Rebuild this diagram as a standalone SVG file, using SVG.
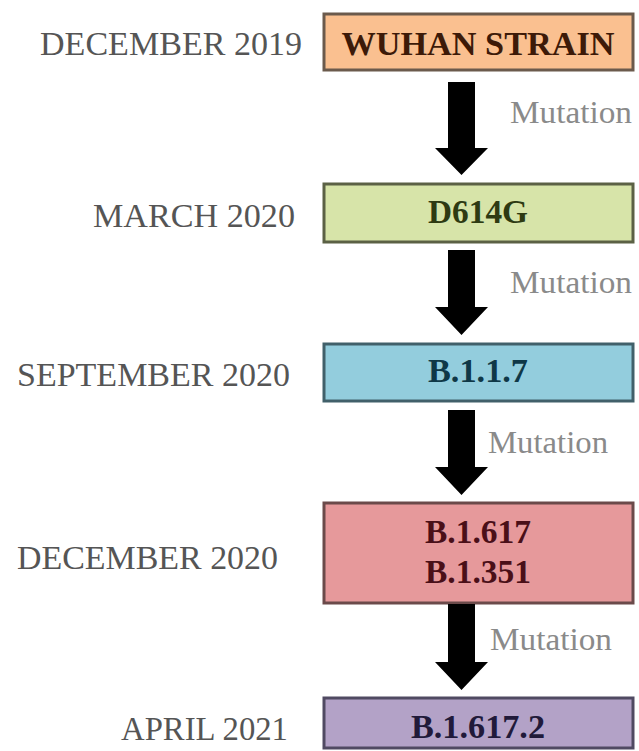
<svg xmlns="http://www.w3.org/2000/svg" width="639" height="751" viewBox="0 0 639 751">
<defs>
<style>
.date{font-family:"Liberation Serif","Times New Roman",serif;font-size:34px;fill:#555555;}
.mut{font-family:"Liberation Serif","Times New Roman",serif;font-size:32px;fill:#8a8a8a;}
.lbl{font-family:"Liberation Serif","Times New Roman",serif;font-size:33px;font-weight:bold;text-anchor:middle;}
.box{stroke-width:3;}
.arrow{fill:#000000;}
</style>
</defs>
<rect width="639" height="751" fill="#ffffff"/>
<g id="dates">
<text class="date" x="40" y="55" textLength="262" lengthAdjust="spacingAndGlyphs">DECEMBER 2019</text>
<text class="date" x="93" y="227" textLength="202" lengthAdjust="spacingAndGlyphs">MARCH 2020</text>
<text class="date" x="17" y="386" textLength="273" lengthAdjust="spacingAndGlyphs">SEPTEMBER 2020</text>
<text class="date" x="17" y="569" textLength="261" lengthAdjust="spacingAndGlyphs">DECEMBER 2020</text>
<text class="date" x="121" y="740" textLength="167" lengthAdjust="spacingAndGlyphs">APRIL 2021</text>
</g>
<g id="node-wuhan">
<rect class="box" x="324" y="14" width="309" height="56" fill="#FAC090" stroke="#6b5a4c"/>
<text class="lbl" x="478" y="55" fill="#3d1a08" textLength="273" lengthAdjust="spacingAndGlyphs">WUHAN STRAIN</text>
</g>
<g id="node-d614g">
<rect class="box" x="324" y="184" width="309" height="58" fill="#D7E4A9" stroke="#5b6145"/>
<text class="lbl" x="478" y="223" fill="#2e3a12" textLength="100" lengthAdjust="spacingAndGlyphs">D614G</text>
</g>
<g id="node-b117">
<rect class="box" x="324" y="344" width="309" height="57" fill="#93CDDD" stroke="#41606a"/>
<text class="lbl" x="478" y="382" fill="#0f3847" textLength="100" lengthAdjust="spacingAndGlyphs">B.1.1.7</text>
</g>
<g id="node-b1617-b1351">
<rect class="box" x="324" y="503" width="309" height="100" fill="#E6999B" stroke="#6b4a4a"/>
<text class="lbl" x="478" y="543" fill="#4a0f18" textLength="106" lengthAdjust="spacingAndGlyphs">B.1.617</text>
<text class="lbl" x="478" y="583" fill="#4a0f18" textLength="106" lengthAdjust="spacingAndGlyphs">B.1.351</text>
</g>
<g id="node-b16172">
<rect class="box" x="324" y="698" width="309" height="50" fill="#B3A2C7" stroke="#504a62"/>
<text class="lbl" x="478" y="738" fill="#211a3a" textLength="134" lengthAdjust="spacingAndGlyphs">B.1.617.2</text>
</g>
<g id="connectors">
<polygon class="arrow" points="448,82 475,82 475,148 488,148 461.5,175 435,148 448,148"/>
<polygon class="arrow" points="448,250 475,250 475,307 488,307 461.5,335 435,307 448,307"/>
<polygon class="arrow" points="448,410 475,410 475,467 488,467 461.5,495 435,467 448,467"/>
<polygon class="arrow" points="448,604 475,604 475,662 488,662 461.5,690 435,662 448,662"/>
<text class="mut" x="510" y="123" textLength="122" lengthAdjust="spacingAndGlyphs">Mutation</text>
<text class="mut" x="510" y="293" textLength="122" lengthAdjust="spacingAndGlyphs">Mutation</text>
<text class="mut" x="488" y="453" textLength="120" lengthAdjust="spacingAndGlyphs">Mutation</text>
<text class="mut" x="490" y="650" textLength="122" lengthAdjust="spacingAndGlyphs">Mutation</text>
</g>
</svg>
